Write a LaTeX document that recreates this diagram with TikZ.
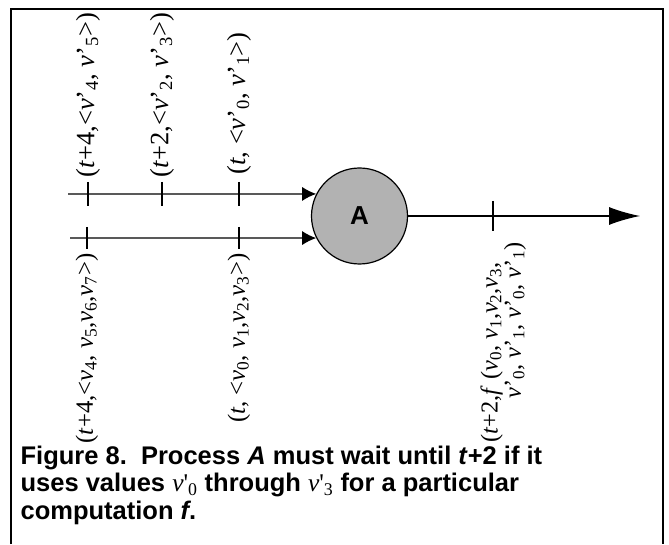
\documentclass[tikz,border=0pt]{standalone}
\usepackage{fontspec}
\setmainfont{Liberation Serif}
\setsansfont{Liberation Sans}
\usetikzlibrary{arrows.meta, calc}
\newcommand{\vsub}[1]{\textit{v}\textsubscript{#1}}
\newcommand{\vprime}[1]{\textit{v}'\textsubscript{#1}}
\newcommand{\vcap}[1]{{\rmfamily\mdseries\textit{v}\textquotesingle\textsubscript{#1}}}

\begin{document}
\begin{tikzpicture}[x=1pt, y=1pt, >={Latex[length=14pt, width=14pt]}, line width=1.2pt,
  process/.style={circle, draw, fill=gray!60, minimum size=96pt, inner sep=0pt},
  tickmark/.style={line width=1.2pt},
  upperlabel/.style={rotate=90, anchor=west, inner sep=2pt, font=\fontsize{26.5}{30}\selectfont},
  lowerlabel/.style={rotate=90, anchor=east, inner sep=2pt, font=\fontsize{24.8}{30}\selectfont},
  caption/.style={anchor=north west, align=left, inner sep=0pt, font=\sffamily\bfseries\fontsize{25.5}{27.5}\selectfont}]
\useasboundingbox (0,0) rectangle (669,544);
\draw[line width=2.5pt] (11,0) -- (11,535) -- (663,535) -- (663,0);

% process and its streams
\node[process] (A) at (359.5,328) {\sffamily\bfseries\fontsize{26}{30}\selectfont A};
\coordinate (in1) at (68,350);
\coordinate (in2) at (70,306);
\coordinate (out) at (640,328);
\draw[->] (in1) -- (A.153);
\draw[->] (in2) -- (A.207);
\draw[-{Latex[length=31pt, width=18pt]}] (A) -- (out);

% ticks
\foreach \x/\name in {88/u1, 162/u2, 239/u3} {
  \coordinate (\name) at (\x,350);
  \draw[tickmark] ($(\name)+(0,12)$) -- ($(\name)+(0,-12)$);
}
\foreach \x/\name in {87/l1, 239/l2} {
  \coordinate (\name) at (\x,306);
  \draw[tickmark] ($(\name)+(0,11)$) -- ($(\name)+(0,-11)$);
}
\coordinate (o1) at (493,328);
\draw[tickmark] ($(o1)+(0,15)$) -- ($(o1)+(0,-15)$);

% labels
\node[upperlabel] (lu1) at ($(u1)+(0,14)$) {(\textit{t}+4,<\vprime{4}, \vprime{5}>)};
\node[upperlabel] (lu2) at ($(u2)+(0,14)$) {(\textit{t}+2,<\vprime{2}, \vprime{3}>)};
\node[upperlabel] (lu3) at ($(u3)+(0,17)$) {(\textit{t}, <\vprime{0}, \vprime{1}>)};
\node[lowerlabel] (ll1) at ($(l1)+(0,-13)$) {(\textit{t}+4,<\vsub{4}, \vsub{5},\vsub{6},\vsub{7}>)};
\node[lowerlabel] (ll2) at ($(l2)+(0,-13)$) {(\textit{t}, <\vsub{0}, \vsub{1},\vsub{2},\vsub{3}>)};
\node[rotate=90, anchor=north east, align=left, inner sep=0pt, font=\fontsize{24.3}{20}\selectfont] (lo) at (480,302)
  {(\textit{t}+2,\textit{f} (\vsub{0}, \vsub{1},\vsub{2},\vsub{3},\\ \hspace*{44pt}\vprime{0}, \vprime{1}, \vprime{0}, \vprime{1})};

% caption
\node[caption] (cap) at (20,99) {Figure 8.\ \ Process \textit{A} must wait until \textit{t}+2 if it\\
uses values \vcap{0}\ through \vcap{3}\ for a particular\\
computation \textit{f}.};
\end{tikzpicture}
\end{document}
